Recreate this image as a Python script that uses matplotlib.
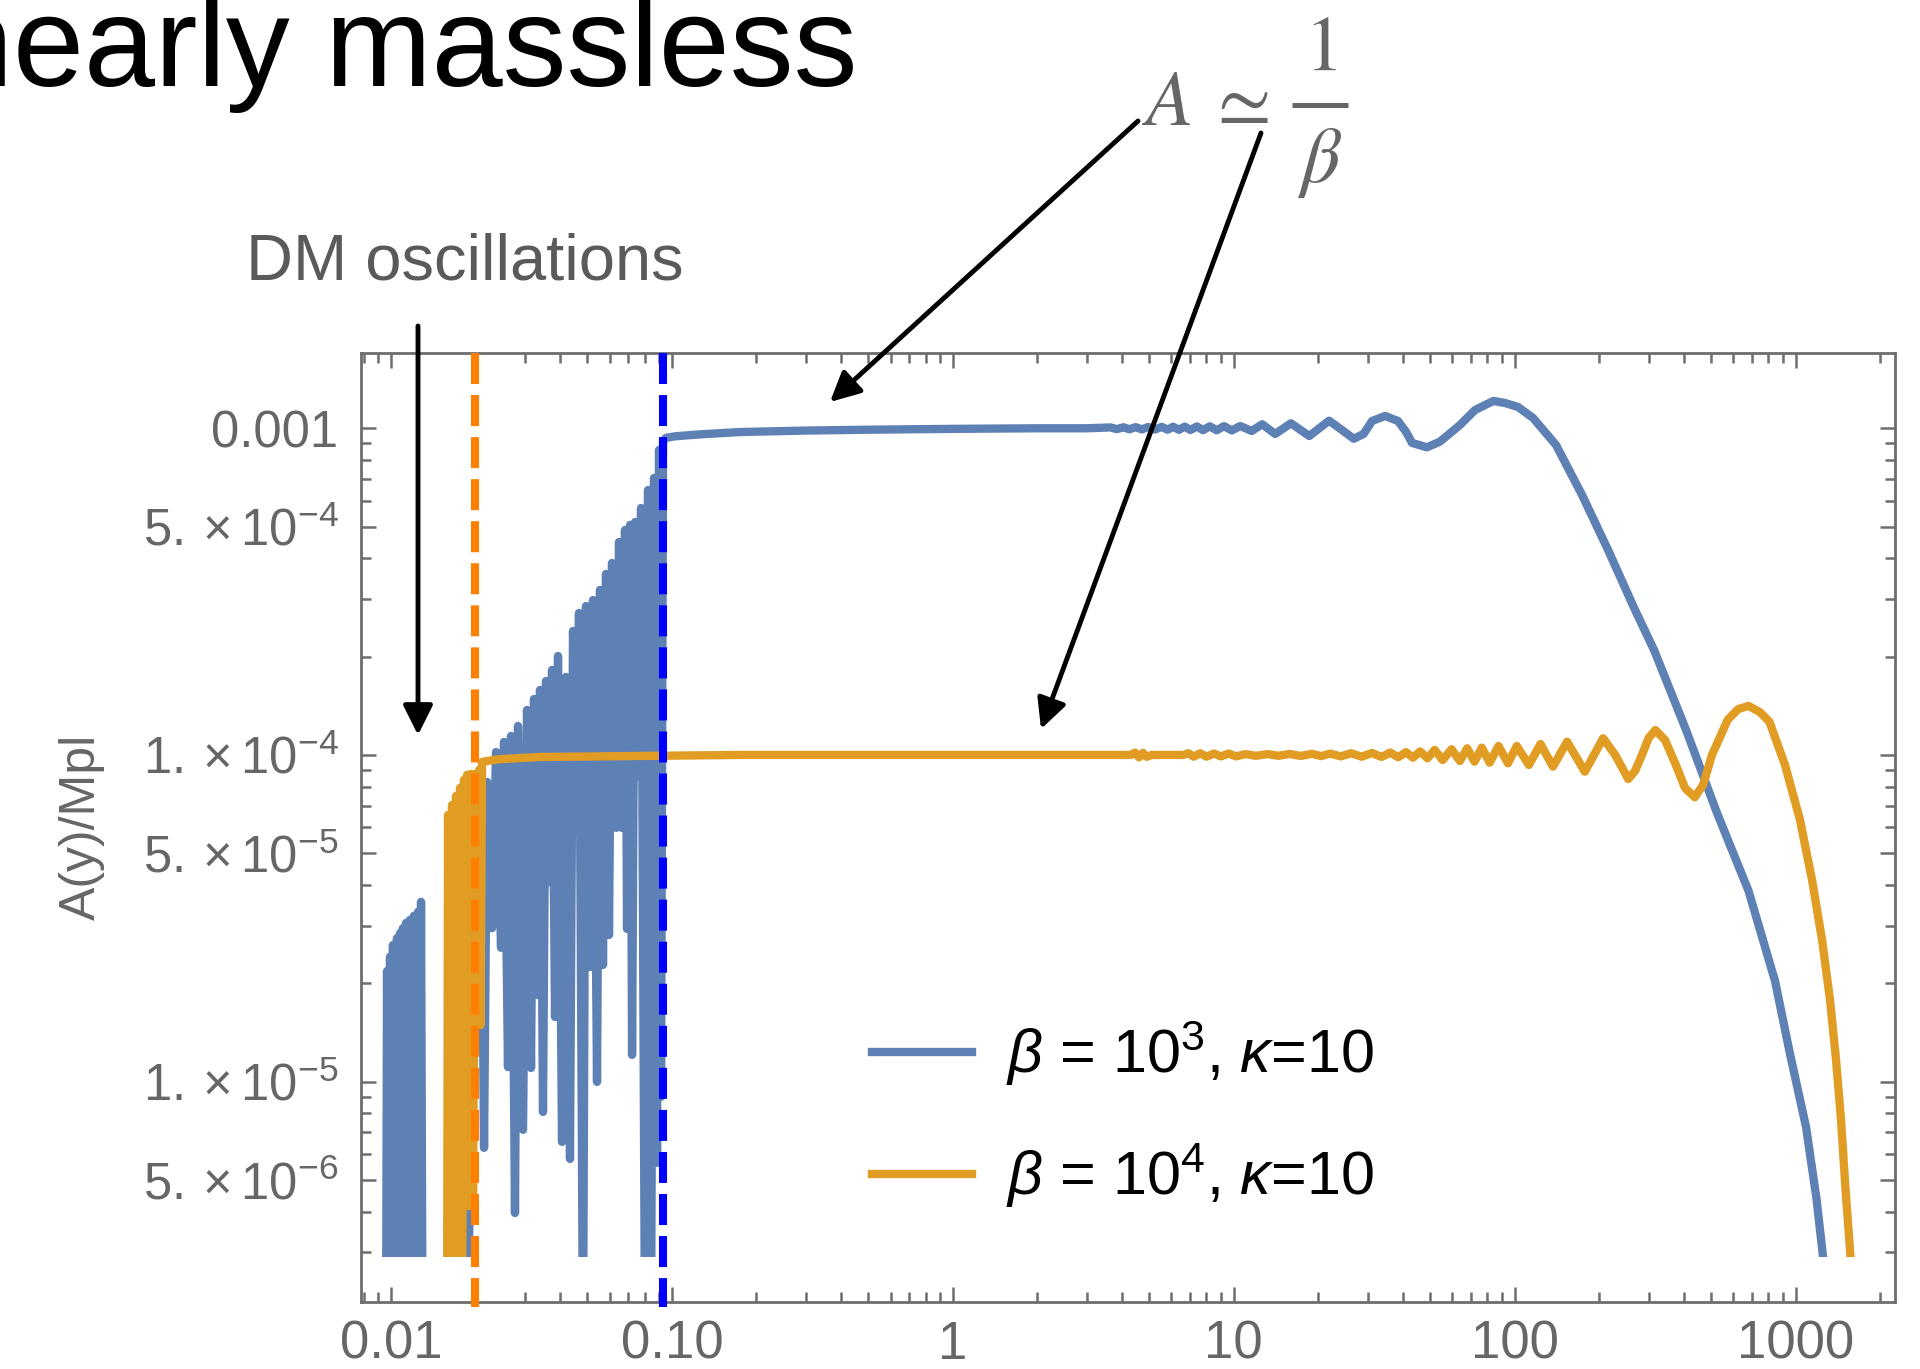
import matplotlib.pyplot as plt
from matplotlib.lines import Line2D
from matplotlib.patches import FancyArrowPatch, Rectangle
from matplotlib.ticker import FixedLocator, FixedFormatter, LogLocator, NullFormatter

plt.rcParams['font.family'] = ['Liberation Sans', 'DejaVu Sans']
plt.rcParams['mathtext.fontset'] = 'custom'
plt.rcParams['mathtext.rm'] = 'Liberation Sans'
plt.rcParams['mathtext.it'] = 'Liberation Sans:italic'
plt.rcParams['mathtext.bf'] = 'Liberation Sans:bold'

W, H = 1920, 1369

# values below the plotted range (the curve is cut off there)
LOW = 1.5e-6
A_FLOOR = 2.9e-6

# beta = 1e3, kappa = 10
blue_y = [0.00960, 0.00968, 0.00976, 0.00992, 0.01000, 0.01016, 0.01033, 0.01050,
          0.01063, 0.01077, 0.01090, 0.01103, 0.01112, 0.01131, 0.01150, 0.01169,
          0.01188, 0.01207, 0.01227, 0.01248, 0.01263, 0.01279, 0.01295,
          0.01849, 0.02092, 0.02144, 0.02197, 0.02289, 0.02365, 0.02464, 0.02525,
          0.02609, 0.02674, 0.02763, 0.02832, 0.02951, 0.03049, 0.03151, 0.03229,
          0.03310, 0.03392, 0.03476, 0.03563, 0.03652, 0.03743, 0.03836, 0.03931,
          0.04062, 0.04198, 0.04337, 0.04445, 0.04556, 0.04669, 0.04825, 0.04945,
          0.05109, 0.05237, 0.05412, 0.05546, 0.05684, 0.05826, 0.05971, 0.06120,
          0.06324, 0.06482, 0.06643, 0.06808, 0.06922, 0.07094, 0.07213, 0.07392,
          0.07576, 0.07765, 0.08023, 0.08222, 0.08427, 0.08637, 0.08852, 0.08998,
          0.09147, 0.09298,
          0.0953, 0.1026, 0.1259, 0.1749, 0.3, 0.5, 1.0, 2.0, 3.0,
          3.642, 3.833, 4.053, 4.250, 4.476, 4.709, 4.958, 5.242, 5.542, 5.811,
          6.089, 6.386, 6.692, 7.017, 7.390, 7.775, 8.220, 8.691, 9.237, 9.845,
          10.55, 11.59, 12.62, 14.05, 15.98, 18.57, 21.86, 24.2, 26.74, 29.0,
          31.08, 34.57, 38.45, 41.06, 43.13, 48.73, 54.2, 63.9, 72.3, 84.0,
          92.4, 102.8, 116.3, 140.4, 173.8, 215.1, 268.3, 313.5, 407.6, 525.5,
          680.4, 845.3, 955.9, 1090, 1188, 1253, 1300]
blue_A = [LOW, 2.18e-5, LOW, 2.41e-5, LOW, 2.62e-5, LOW, 2.75e-5,
          5.56e-6, 2.85e-5, 5.56e-6, 2.95e-5, LOW, 3.06e-5, LOW, 3.13e-5,
          LOW, 3.22e-5, LOW, 3.31e-5, LOW, 3.55e-5, LOW,
          LOW, 7.81e-5, 6.27e-6, 8.27e-5, 2.95e-5, 1.021e-4, 2.57e-5, 1.096e-4,
          1.108e-5, 1.143e-4, 3.96e-6, 1.227e-4, 7.12e-6, 1.373e-4, 1.101e-5, 1.484e-4,
          1.842e-5, 1.581e-4, 8.08e-6, 1.684e-4, 4.08e-5, 1.820e-4, 1.577e-5, 2.009e-4,
          6.54e-6, 1.733e-4, 5.80e-6, 2.396e-4, 6.64e-5, 2.720e-4, LOW, 2.857e-4,
          2.244e-5, 2.980e-4, 9.98e-6, 3.199e-4, 2.276e-5, 3.581e-4, 2.812e-5, 3.870e-4,
          5.98e-5, 4.487e-4, 5.98e-5, 4.883e-4, 2.934e-5, 5.058e-4, 1.207e-5, 5.166e-4,
          8.62e-5, 5.702e-4, LOW, 6.474e-4, LOW, 7.046e-4, 5.64e-6, 8.58e-4,
          8.98e-6, 9.14e-4,
          9.35e-4, 9.45e-4, 9.58e-4, 9.74e-4, 9.84e-4, 9.90e-4, 9.96e-4, 1.0e-3, 1.0e-3,
          1.006e-3, 0.994e-3, 1.007e-3, 0.993e-3, 1.008e-3, 0.992e-3, 1.009e-3, 0.991e-3, 1.010e-3, 0.990e-3,
          1.011e-3, 0.989e-3, 1.012e-3, 0.988e-3, 1.013e-3, 0.987e-3, 1.014e-3, 0.986e-3, 1.015e-3, 0.985e-3,
          1.016e-3, 0.981e-3, 1.029e-3, 0.961e-3, 1.036e-3, 0.947e-3, 1.055e-3, 0.990e-3, 0.929e-3, 0.961e-3,
          1.0525e-3, 1.0905e-3, 1.0525e-3, 0.975e-3, 0.902e-3, 0.8745e-3, 0.910e-3, 1.0235e-3, 1.1378e-3, 1.2125e-3,
          1.1953e-3, 1.162e-3, 1.0753e-3, 8.889e-4, 6.248e-4, 4.241e-4, 2.779e-4, 2.096e-4, 1.193e-4, 6.64e-5,
          3.834e-5, 2.033e-5, 1.215e-5, 7.26e-6, 4.37e-6, 2.91e-6, LOW]

# beta = 1e4, kappa = 10
orange_y = [0.01583, 0.01596, 0.01622, 0.01649, 0.01676, 0.01704, 0.01732, 0.01761,
            0.01790, 0.01819, 0.01842, 0.01865, 0.01896, 0.01927, 0.01959, 0.01991,
            0.02024, 0.02058, 0.02083, 0.02109,
            0.0240, 0.0339, 0.175, 3.0,
            4.3, 4.45, 4.6, 4.75, 4.9, 5.1, 6.6, 6.9, 7.2, 7.6, 8.0, 8.5, 9.0, 9.6, 10.2,
            11.0, 12.0, 13.2, 14.4, 15.8, 17.3, 19.0, 20.5,
            22.04, 24.03, 26.16, 28.51, 31.08, 33.57, 36.11, 38.48, 41.06, 43.41, 46.08, 48.93,
            51.95, 55.42, 59.64, 63.81, 67.80, 71.97, 76.40, 81.47, 87.63, 94.67,
            101.8, 112.4, 123.6, 136.9, 153.7, 177.8, 206.6, 228.1, 253.8, 268.3,
            284.0, 300.0, 317.1, 343.1, 373.4, 404.3, 437.7, 468.5, 504.2, 573.2,
            624.3, 680.4, 747.5, 808.1, 917.3, 1037.5, 1145, 1243, 1327, 1394,
            1452, 1507, 1570, 1600]
orange_A = [LOW, 6.55e-5, LOW, 7.03e-5, LOW, 7.49e-5, LOW, 7.93e-5,
            LOW, 8.39e-5, 7.22e-6, 8.69e-5, 4.16e-6, 8.75e-5, 4.16e-6, 8.75e-5,
            1.49e-5, 9.0e-5, 1.49e-5, 9.52e-5,
            9.70e-5, 9.86e-5, 1.0e-4, 1.0e-4,
            1.0e-4, 1.017e-4, 0.983e-4, 1.015e-4, 0.987e-4, 1.0e-4, 1.0e-4, 1.012e-4, 0.988e-4,
            1.012e-4, 0.988e-4, 1.010e-4, 0.990e-4, 1.010e-4, 0.990e-4,
            1.006e-4, 0.994e-4, 1.006e-4, 0.994e-4, 1.007e-4, 0.993e-4, 1.008e-4, 0.992e-4,
            1.010e-4, 0.990e-4, 1.012e-4, 0.988e-4, 1.014e-4, 0.986e-4, 1.017e-4, 0.984e-4,
            1.020e-4, 0.981e-4, 1.025e-4, 0.977e-4,
            1.036e-4, 9.65e-5, 1.041e-4, 9.58e-5, 1.048e-4, 9.54e-5, 1.053e-4, 9.47e-5, 1.065e-4, 9.43e-5,
            1.065e-4, 9.32e-5, 1.080e-4, 9.21e-5, 1.098e-4, 8.89e-5, 1.125e-4, 1.0e-4, 8.44e-5, 8.93e-5,
            1.0e-4, 1.127e-4, 1.192e-4, 1.111e-4, 9.4e-5, 7.92e-5, 7.42e-5, 8.09e-5, 1.0e-4, 1.28e-4,
            1.381e-4, 1.413e-4, 1.352e-4, 1.262e-4, 9.32e-5, 6.32e-5, 4.143e-5, 2.715e-5, 1.778e-5, 1.165e-5,
            7.63e-6, 4.66e-6, 2.9e-6, LOW]

# where the two runs start following A ~ 1/beta
onset_beta4 = 0.0199
onset_beta3 = 0.0927

x_ticks = [0.01, 0.1, 1, 10, 100, 1000]
x_tick_labels = ['0.01', '0.10', '1', '10', '100', '1000']
y_ticks = [5e-6, 1e-5, 5e-5, 1e-4, 5e-4, 1e-3]
y_tick_labels = [r'$5.\times10^{-6}$', r'$1.\times10^{-5}$', r'$5.\times10^{-5}$',
                 r'$1.\times10^{-4}$', r'$5.\times10^{-4}$', '0.001']
legend_labels = [r'$\beta$ = $10^3$, $\kappa$=10', r'$\beta$ = $10^4$, $\kappa$=10']

XLIM = (0.0078, 2260)
YLIM = (2.12e-6, 1.70e-3)

BLUE = '#5e81b5'
ORANGE = '#e19c24'
FRAME = '#6e6e6e'
LABEL = '#666666'


def fig_xy(px, py):
    return px / W, 1 - py / H


fig = plt.figure(figsize=(W / 100, H / 100), dpi=100)
ax = fig.add_axes([360.7 / W, 1 - 1301.7 / H, (1895 - 360.7) / W, (1301.7 - 353) / H])
ax.set_xscale('log')
ax.set_yscale('log')
ax.set_xlim(*XLIM)
ax.set_ylim(*YLIM)

l1, = ax.plot(blue_y, blue_A, color=BLUE, lw=6.0, zorder=2)
l2, = ax.plot(orange_y, orange_A, color=ORANGE, lw=6.0, zorder=3)
# cut the curves at the bottom of the plot range
for line in (l1, l2):
    cut = Rectangle((XLIM[0], A_FLOOR), XLIM[1] - XLIM[0], YLIM[1] - A_FLOOR,
                    transform=ax.transData)
    line.set_clip_path(cut)

for xv, c in [(onset_beta4, '#ff8000'), (onset_beta3, '#0000ff')]:
    ax.plot([xv, xv], [1.0, -0.006], transform=ax.get_xaxis_transform(),
            color=c, lw=5.8, linestyle=(0, (3.85, 1.37)), clip_on=False, zorder=4)

ax.xaxis.set_major_locator(FixedLocator(x_ticks))
ax.xaxis.set_major_formatter(FixedFormatter(x_tick_labels))
ax.xaxis.set_minor_locator(LogLocator(base=10, subs=range(2, 10), numticks=20))
ax.xaxis.set_minor_formatter(NullFormatter())
y_minor = [k * 10.0 ** e for e in range(-7, -2) for k in (2, 3, 4, 6, 7, 8, 9)]
ax.yaxis.set_major_locator(FixedLocator(y_ticks))
ax.yaxis.set_major_formatter(FixedFormatter(y_tick_labels))
ax.yaxis.set_minor_locator(FixedLocator(y_minor))
ax.yaxis.set_minor_formatter(NullFormatter())

ax.tick_params(which='both', direction='in', top=True, right=True,
               color=FRAME, width=1.8, labelcolor=LABEL)
ax.tick_params(which='major', length=10.8)
ax.tick_params(which='minor', length=7.2)
ax.tick_params(axis='x', pad=13, labelsize=38)
ax.tick_params(axis='y', pad=16, labelsize=36.5)
for s in ax.spines.values():
    s.set_color(FRAME)
    s.set_linewidth(2.0)

ax.set_ylabel('A(y)/Mpl', fontsize=36, color=LABEL)
ax.yaxis.set_label_coords(-0.167, 0.5)

leg = ax.legend([l1, l2], legend_labels, loc='upper left',
                bbox_to_anchor=fig_xy(872, 1019), bbox_transform=fig.transFigure,
                frameon=False, fontsize=44, handlelength=1.64, handletextpad=0.55,
                labelspacing=0.87, borderpad=0, borderaxespad=0)

fig.text(*fig_xy(857, 86), 'nearly massless', ha='right', va='baseline',
         fontsize=92, color='black')
fig.text(*fig_xy(246, 279), 'DM oscillations', ha='left', va='baseline',
         fontsize=46.8, color='#5a5a5a')

# A ~ 1/beta, set piece by piece so the fraction keeps full-size digits
fig.text(*fig_xy(1142, 125), r'$A$', ha='left', va='baseline',
         fontsize=56, color=LABEL, math_fontfamily='stix')
fig.text(*fig_xy(1206, 125), r'$\simeq$', ha='left', va='baseline',
         fontsize=56, color=LABEL, math_fontfamily='stix')
fig.text(*fig_xy(1320, 70), r'$1$', ha='center', va='baseline',
         fontsize=56, color=LABEL, math_fontfamily='stix')
fig.text(*fig_xy(1320, 182), r'$\beta$', ha='center', va='baseline',
         fontsize=56, color=LABEL, math_fontfamily='stix')
fig.add_artist(Line2D([1292 / W, 1348 / W], [1 - 104.5 / H] * 2, color=LABEL,
                      lw=3.6, solid_capstyle='butt', transform=fig.transFigure))

arrows = [((418, 326), (418, 735)),
          ((1138, 121), (830, 402)),
          ((1261, 133), (1041, 729))]
for start, end in arrows:
    fig.add_artist(FancyArrowPatch(fig_xy(*start), fig_xy(*end), transform=fig.transFigure,
                                   arrowstyle='-|>,head_length=18,head_width=9',
                                   mutation_scale=1, lw=3.5, color='black',
                                   shrinkA=0, shrinkB=0))

fig.savefig('out.png', dpi=100)
